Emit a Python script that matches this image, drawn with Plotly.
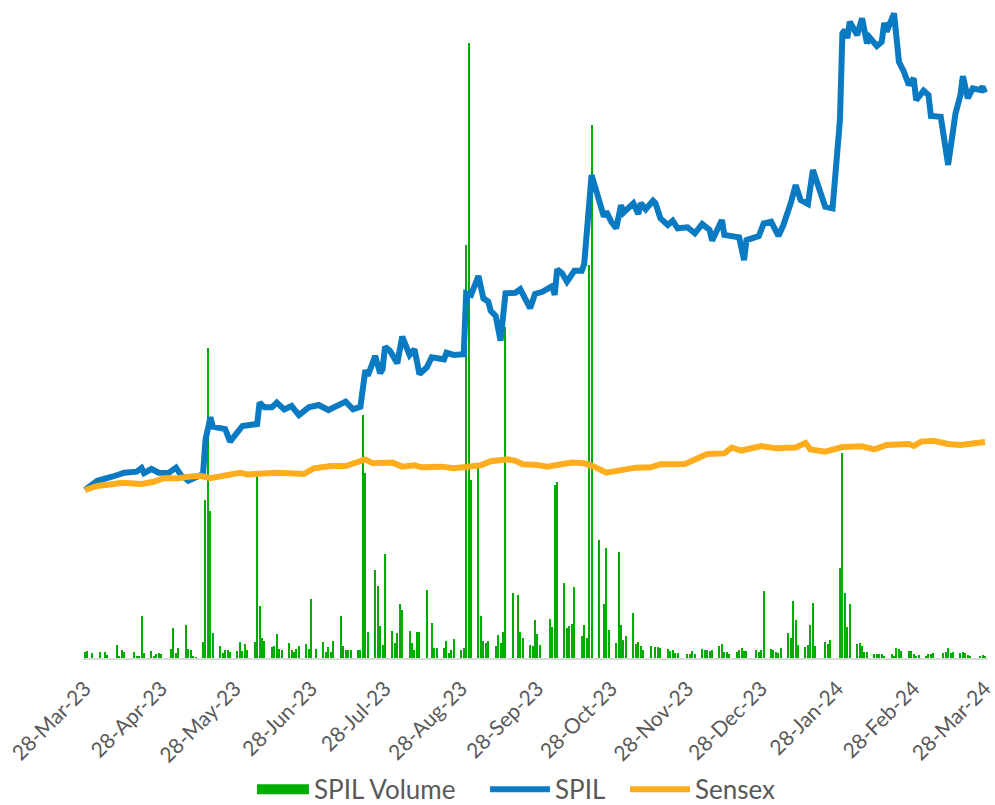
import pandas as pd
import plotly.graph_objects as go

# ---- daily traded volume of SPIL (thousand shares), one row per week Mon..Fri ----
vol_week_start = "2023-03-27"
vol_week_end = "2024-03-29"
spil_volume_weeks = [
    [0, 6, 7, 0, 5],          # 27-Mar-23
    [6, 0, 6, 3, 0],
    [13, 2, 8, 6, 0],
    [6, 2, 2, 42, 5],
    [7, 2, 4, 5, 4],
    [0, 9, 30, 5, 10],        # 01-May-23
    [33, 9, 8, 2, 1],
    [16, 158, 310, 147, 25],
    [12, 5, 8, 8, 6],
    [7, 16, 7, 14, 8],
    [16, 183, 52, 20, 17],    # 05-Jun-23
    [11, 12, 24, 9, 8],
    [15, 8, 6, 9, 12],
    [14, 9, 59, 0, 9],
    [16, 6, 11, 6, 17],       # 03-Jul-23
    [42, 12, 8, 8, 8],
    [8, 8, 243, 185, 26],
    [88, 72, 32, 13, 104],
    [27, 15, 25, 54, 48],
    [27, 15, 8, 26, 26],      # 07-Aug-23
    [68, 0, 35, 10, 10],
    [10, 17, 5, 8, 19],
    [8, 10, 413, 615, 178],
    [190, 42, 17, 15, 17],    # 04-Sep-23
    [12, 23, 15, 26, 331],
    [65, 0, 63, 26, 20],
    [13, 12, 38, 24, 13],
    [0, 39, 31, 173, 176],    # 02-Oct-23
    [75, 30, 32, 34, 71],
    [22, 33, 20, 393, 533],
    [118, 0, 54, 110, 28],
    [15, 106, 33, 18, 22],
    [45, 14, 16, 12, 8],      # 06-Nov-23
    [12, 0, 11, 11, 10],
    [9, 7, 8, 5, 5],
    [0, 4, 4, 7, 4],
    [9, 8, 8, 7, 8],          # 04-Dec-23
    [12, 14, 6, 6, 4],
    [6, 8, 10, 7, 7],
    [0, 8, 6, 8, 67],
    [9, 8, 6, 5, 10],         # 01-Jan-24
    [25, 20, 57, 38, 13],
    [11, 13, 33, 55, 12],
    [0, 16, 14, 18, 0],
    [90, 205, 65, 31, 54],
    [14, 15, 12, 6, 6],       # 05-Feb-24
    [4, 4, 4, 4, 2],
    [4, 2, 10, 9, 7],
    [7, 7, 4, 2, 3],
    [2, 4, 4, 5, 0],          # 04-Mar-24
    [5, 6, 10, 5, 6],
    [5, 6, 5, 3, 2],
    [0, 2, 3, 2, 0],
]

# ---- SPIL price, rebased to 100 on 28-Mar-23 ----
spil_dates = [
    "2023-03-28", "2023-04-02", "2023-04-08", "2023-04-13", "2023-04-18", "2023-04-20",
    "2023-04-21", "2023-04-24", "2023-04-27", "2023-05-01", "2023-05-04", "2023-05-06",
    "2023-05-09", "2023-05-12", "2023-05-15", "2023-05-16", "2023-05-18", "2023-05-19",
    "2023-05-24", "2023-05-26", "2023-05-29", "2023-05-31", "2023-06-06", "2023-06-07",
    "2023-06-09", "2023-06-12", "2023-06-14", "2023-06-17", "2023-06-20", "2023-06-23",
    "2023-06-27", "2023-07-01", "2023-07-05", "2023-07-07", "2023-07-12", "2023-07-15",
    "2023-07-18", "2023-07-20", "2023-07-21", "2023-07-24", "2023-07-26", "2023-07-27",
    "2023-07-28", "2023-07-30", "2023-08-02", "2023-08-04", "2023-08-07", "2023-08-09",
    "2023-08-11", "2023-08-14", "2023-08-16", "2023-08-21", "2023-08-22", "2023-08-25",
    "2023-08-29", "2023-08-30", "2023-09-01", "2023-09-04", "2023-09-06", "2023-09-08",
    "2023-09-09", "2023-09-11", "2023-09-13", "2023-09-15", "2023-09-19", "2023-09-21",
    "2023-09-23", "2023-09-25", "2023-09-27", "2023-09-30", "2023-10-04", "2023-10-05",
    "2023-10-06", "2023-10-08", "2023-10-10", "2023-10-13", "2023-10-16", "2023-10-17",
    "2023-10-20", "2023-10-22", "2023-10-25", "2023-10-26", "2023-10-28", "2023-10-30",
    "2023-11-01", "2023-11-02", "2023-11-06", "2023-11-08", "2023-11-09", "2023-11-11",
    "2023-11-14", "2023-11-15", "2023-11-17", "2023-11-20", "2023-11-22", "2023-11-24",
    "2023-11-28", "2023-12-01", "2023-12-04", "2023-12-07", "2023-12-08", "2023-12-12",
    "2023-12-13", "2023-12-19", "2023-12-21", "2023-12-22", "2023-12-27", "2023-12-29",
    "2024-01-01", "2024-01-04", "2024-01-06", "2024-01-09", "2024-01-11", "2024-01-13",
    "2024-01-16", "2024-01-18", "2024-01-21", "2024-01-23", "2024-01-26", "2024-01-29",
    "2024-01-30", "2024-01-31", "2024-02-01", "2024-02-02", "2024-02-05", "2024-02-07",
    "2024-02-09", "2024-02-10", "2024-02-13", "2024-02-15", "2024-02-16", "2024-02-17",
    "2024-02-20", "2024-02-22", "2024-02-24", "2024-02-26", "2024-02-28", "2024-02-29",
    "2024-03-03", "2024-03-05", "2024-03-06", "2024-03-10", "2024-03-13", "2024-03-16",
    "2024-03-18", "2024-03-19", "2024-03-21", "2024-03-23", "2024-03-26", "2024-03-27",
    "2024-03-28",
]
spil_values = [
    100.0, 105.5, 107.9, 110.3, 110.9, 113.1,
    110.1, 112.5, 110.3, 110.1, 113.3, 108.9,
    105.5, 107.9, 109.5, 129.8, 143.3, 137.7,
    136.3, 128.8, 133.9, 138.1, 139.3, 152.0,
    149.2, 149.2, 152.0, 148.0, 150.0, 144.6,
    149.2, 150.6, 147.6, 149.2, 152.6, 148.0,
    149.6, 171.4, 168.0, 179.8, 169.5, 171.8,
    185.3, 182.9, 175.4, 191.3, 180.4, 183.8,
    169.0, 173.0, 179.0, 177.8, 181.7, 180.4,
    180.8, 217.1, 216.1, 227.4, 214.1, 212.1,
    206.7, 203.6, 188.9, 217.1, 217.4, 219.5,
    213.1, 208.2, 216.7, 218.0, 221.4, 216.1,
    231.4, 229.0, 224.0, 230.5, 230.5, 234.5,
    287.5, 276.6, 262.7, 265.7, 259.7, 255.8,
    269.6, 265.1, 270.7, 264.3, 270.7, 267.1,
    272.2, 270.7, 261.7, 257.7, 260.3, 255.8,
    256.4, 252.8, 258.3, 254.8, 248.4, 260.7,
    251.8, 250.4, 236.9, 248.8, 251.2, 258.7,
    259.7, 251.2, 257.7, 270.7, 281.5, 272.6,
    270.2, 290.5, 278.6, 268.7, 267.7, 320.2,
    371.8, 373.8, 368.9, 378.8, 370.8, 380.8,
    365.9, 369.5, 364.3, 366.8, 378.1, 372.8,
    383.7, 354.9, 349.0, 341.1, 345.1, 332.1,
    337.7, 335.1, 322.6, 322.2, 293.5, 324.2,
    335.1, 346.4, 333.2, 339.1, 338.1, 340.1,
    336.5,
]

# ---- BSE Sensex, rebased to 100 on 28-Mar-23 ----
sensex_dates = [
    "2023-03-28", "2023-04-02", "2023-04-08", "2023-04-12", "2023-04-20", "2023-04-25",
    "2023-04-29", "2023-05-05", "2023-05-09", "2023-05-14", "2023-05-18", "2023-05-22",
    "2023-05-27", "2023-05-30", "2023-06-02", "2023-06-08", "2023-06-14", "2023-06-19",
    "2023-06-25", "2023-06-29", "2023-07-06", "2023-07-12", "2023-07-16", "2023-07-20",
    "2023-07-23", "2023-07-26", "2023-07-31", "2023-08-04", "2023-08-09", "2023-08-12",
    "2023-08-20", "2023-08-25", "2023-09-01", "2023-09-05", "2023-09-09", "2023-09-16",
    "2023-09-19", "2023-09-22", "2023-09-28", "2023-10-02", "2023-10-06", "2023-10-12",
    "2023-10-17", "2023-10-21", "2023-10-26", "2023-11-01", "2023-11-07", "2023-11-13",
    "2023-11-17", "2023-11-27", "2023-12-01", "2023-12-06", "2023-12-13", "2023-12-16",
    "2023-12-20", "2023-12-23", "2023-12-28", "2024-01-03", "2024-01-11", "2024-01-15",
    "2024-01-17", "2024-01-23", "2024-01-30", "2024-02-07", "2024-02-12", "2024-02-17",
    "2024-02-26", "2024-02-28", "2024-03-02", "2024-03-07", "2024-03-13", "2024-03-18",
    "2024-03-22", "2024-03-26", "2024-03-28",
]
sensex_values = [
    100.0, 102.4, 103.4, 104.3, 103.6, 104.9,
    107.0, 107.0, 107.9, 108.5, 107.0, 107.9,
    109.5, 110.3, 109.3, 109.9, 110.3, 109.9,
    109.5, 112.9, 114.3, 114.3, 116.3, 118.2,
    115.9, 115.9, 116.3, 113.9, 114.7, 113.5,
    113.9, 112.9, 113.5, 114.7, 117.1, 118.3,
    117.4, 115.3, 114.9, 113.9, 114.9, 116.3,
    115.9, 113.9, 110.3, 111.5, 113.3, 113.5,
    115.3, 115.5, 117.9, 121.4, 121.8, 125.2,
    123.5, 124.2, 126.2, 124.8, 125.3, 128.0,
    124.2, 122.8, 125.6, 126.0, 124.2, 126.8,
    127.4, 126.2, 128.8, 129.3, 127.4, 126.8,
    127.4, 127.4, 128.6,
]

# ---- x-axis ticks ----
tick_dates = [
    "2023-03-28", "2023-04-28", "2023-05-28", "2023-06-28", "2023-07-28", "2023-08-28",
    "2023-09-28", "2023-10-28", "2023-11-28", "2023-12-28", "2024-01-28", "2024-02-28",
    "2024-03-28",
]
tick_labels = [
    "28-Mar-23", "28-Apr-23", "28-May-23", "28-Jun-23", "28-Jul-23", "28-Aug-23",
    "28-Sep-23", "28-Oct-23", "28-Nov-23", "28-Dec-23", "28-Jan-24", "28-Feb-24",
    "28-Mar-24",
]

GREEN = "#00ad00"
BLUE = "#0a7bc2"
ORANGE = "#ffad1c"
TEXT = "#595959"
FONT = "Lato"

volume_dates = pd.bdate_range(vol_week_start, vol_week_end)
volume_values = [v for week in spil_volume_weeks for v in week]

fig = go.Figure()

fig.add_trace(go.Bar(
    x=volume_dates, y=volume_values, name="SPIL Volume",
    marker=dict(color=GREEN, line=dict(width=0)),
    width=0.45 * 86400000, yaxis="y", showlegend=False, legendgroup="vol",
))
# legend entry for the volume bars
fig.add_trace(go.Scatter(
    x=[None], y=[None], mode="lines", name="SPIL Volume",
    line=dict(color=GREEN, width=10), yaxis="y2", legendgroup="vol",
    legend="legend",
))
fig.add_trace(go.Scatter(
    x=pd.to_datetime(spil_dates), y=spil_values, mode="lines", name="SPIL",
    line=dict(color=BLUE, width=6), yaxis="y2", legend="legend2",
))
fig.add_trace(go.Scatter(
    x=pd.to_datetime(sensex_dates), y=sensex_values, mode="lines", name="Sensex",
    line=dict(color=ORANGE, width=6), yaxis="y2", legend="legend3",
))


def legend_box(x, itemwidth):
    return dict(
        orientation="h", x=x, xanchor="left", y=-0.165, yanchor="top",
        font=dict(family=FONT, size=26, color=TEXT), itemwidth=itemwidth,
        bgcolor="rgba(0,0,0,0)",
    )


fig.update_layout(
    width=995, height=805,
    template="none",
    paper_bgcolor="white", plot_bgcolor="white",
    margin=dict(l=83, r=7, t=5, b=147, autoexpand=False),
    font=dict(family=FONT, color=TEXT),
    bargap=0,
    xaxis=dict(
        type="date",
        range=["2023-03-27 04:30", "2024-03-29 05:00"],
        tickvals=tick_dates, ticktext=tick_labels, tickangle=-45,
        tickfont=dict(family=FONT, size=21, color=TEXT),
        ticks="outside", ticklen=8, tickcolor="rgba(0,0,0,0)",
        ticklabeloverflow="allow",
        showgrid=False, zeroline=False,
        showline=True, linecolor="#d9d9d9", linewidth=2,
        automargin=False,
    ),
    yaxis=dict(range=[0, 653], visible=False, showgrid=False, zeroline=False),
    yaxis2=dict(range=[0, 388.7], overlaying="y", visible=False,
                showgrid=False, zeroline=False),
    legend=legend_box(0.1867, 52),
    legend2=legend_box(0.4442, 60),
    legend3=legend_box(0.5989, 60),
)

fig.write_html("out.html")
